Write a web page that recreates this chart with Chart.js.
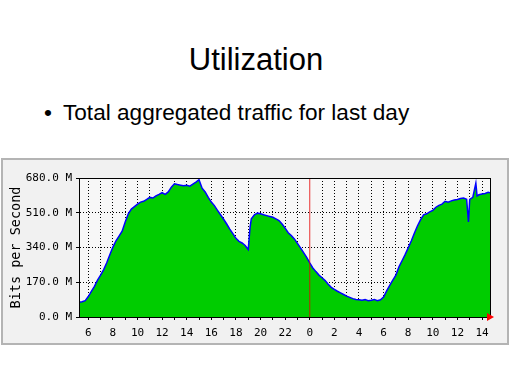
<!DOCTYPE html>
<html>
<head>
<meta charset="utf-8">
<script src="https://cdn.jsdelivr.net/npm/chart.js"></script>
<style>
  html, body { margin: 0; padding: 0; background: #fff; }
  body { width: 512px; height: 384px; position: relative; overflow: hidden; font-family: "Liberation Sans", Arial, sans-serif; }
  #title { position: absolute; left: 0; width: 512px; top: 44px; text-align: center; font-size: 31px; line-height: 31px; color: #000; }
  #bullet { position: absolute; left: 44px; top: 102px; font-size: 22.6px; line-height: 22.6px; color: #000; white-space: nowrap; }
  #bullet span { display: inline-block; width: 19px; }
  #panel { position: absolute; left: 1px; top: 158px; width: 504px; height: 183px; border: 2px solid #b4b4b4; background: #f1f1f1; }
  #traffic { position: absolute; left: 0; top: 158px; }
</style>
</head>
<body>
<div id="title">Utilization</div>
<div id="bullet"><span>&bull;</span>Total aggregated traffic for last day</div>
<div id="panel"></div>
<canvas id="traffic" width="512" height="190"></canvas>

<script>
// hours since midnight of the first day (24 = 0:00 of the next day)
let hours = [
    5.25, 5.5, 5.75, 6, 6.25, 6.5, 6.75, 7, 7.25, 7.5, 7.75, 8, 8.25, 8.5, 8.75,
    9, 9.25, 9.5, 9.75, 10, 10.25, 10.5, 10.75, 11, 11.25, 11.5, 11.75, 12, 12.25, 12.5, 12.75,
    13, 13.25, 13.5, 13.75, 14, 14.25, 14.5, 14.75, 15, 15.25, 15.5, 15.75, 16, 16.25, 16.5, 16.75,
    17, 17.25, 17.5, 17.75, 18, 18.25, 18.5, 18.75, 19, 19.15, 19.25, 19.5, 19.75, 20, 20.25, 20.5, 20.75,
    21, 21.25, 21.5, 21.75, 22, 22.25, 22.5, 22.75, 23, 23.25, 23.5, 23.75, 24, 24.25, 24.5, 24.75,
    25, 25.25, 25.5, 25.75, 26, 26.25, 26.5, 26.75, 27, 27.25, 27.5, 27.75, 28, 28.25, 28.5, 28.75,
    29, 29.25, 29.5, 29.75, 30, 30.25, 30.5, 30.75, 31, 31.25, 31.5, 31.75, 32, 32.25, 32.5, 32.75,
    33, 33.25, 33.5, 33.75, 34, 34.25, 34.5, 34.75, 35, 35.25, 35.5, 35.75, 36, 36.25, 36.5, 36.75,
    36.9, 37, 37.25, 37.5, 37.6, 37.75, 38, 38.25, 38.5, 38.65
];

// bits per second, in M
let traffic = [
    72, 75, 80, 100, 125, 150, 180, 205, 232, 265, 305, 342, 373, 396, 420,
    465, 505, 528, 540, 552, 562, 566, 575, 585, 582, 593, 600, 608, 600, 612, 635,
    652, 648, 645, 642, 644, 640, 650, 660, 672, 630, 612, 585, 562, 545, 522, 500,
    478, 455, 430, 408, 385, 370, 362, 350, 330, 440, 480, 500, 508, 505, 500, 496, 492,
    488, 480, 472, 455, 435, 412, 398, 382, 360, 338, 315, 292, 265, 240, 222, 205,
    192, 178, 160, 145, 135, 126, 118, 110, 102, 96, 90, 86, 84, 82, 85, 80,
    82, 86, 80, 84, 98, 128, 155, 180, 205, 245, 275, 305, 338, 372, 410, 445,
    475, 500, 505, 514, 522, 537, 546, 552, 566, 562, 568, 572, 575, 580, 582, 576,
    465, 575, 585, 655, 592, 598, 602, 604, 610, 608
];

let yTicks = [0, 170, 340, 510, 680];
let hourMin = 5.245;
let hourMax = 38.65;
let midnight = 24;

let tickFont = { family: "'DejaVu Sans Mono', monospace", size: 11 };

// plot background, black frame and the red arrow at the end of the time axis
let mrtgFrame = {
    id: 'mrtgFrame',
    beforeDraw: function (chart) {
        let a = chart.chartArea;
        let ctx = chart.ctx;
        ctx.save();
        ctx.fillStyle = '#f7f7f7';
        ctx.fillRect(a.left, a.top, a.right - a.left, a.bottom - a.top);
        ctx.restore();
    },
    afterDraw: function (chart) {
        let a = chart.chartArea;
        let ctx = chart.ctx;
        ctx.save();
        ctx.strokeStyle = '#000';
        ctx.lineWidth = 1;
        ctx.strokeRect(Math.round(a.left) + 0.5, Math.round(a.top) + 0.5, Math.round(a.right - a.left), Math.round(a.bottom - a.top));
        ctx.fillStyle = '#ff0000';
        ctx.beginPath();
        ctx.moveTo(a.right - 3, a.bottom - 4);
        ctx.lineTo(a.right + 4, a.bottom);
        ctx.lineTo(a.right - 3, a.bottom + 4);
        ctx.closePath();
        ctx.fill();
        ctx.restore();
    }
};

let points = hours.map(function (h, i) { return { x: h, y: traffic[i] }; });

let chartview = new Chart(document.getElementById('traffic').getContext('2d'), {
    type: 'line',
    data: {
        datasets: [{
                label: 'midnight',
                data: [{ x: midnight, y: yTicks[0] }, { x: midnight, y: yTicks[yTicks.length - 1] }],
                borderColor: 'rgba(230, 0, 0, 0.8)',
                borderWidth: 1,
                pointRadius: 0,
                fill: false,
                order: 0
            },
            {
                label: 'Bits per Second',
                data: points,
                borderColor: '#0000ff',
                backgroundColor: '#00cc00',
                borderWidth: 1.5,
                pointRadius: 0,
                tension: 0,
                fill: 'origin',
                order: 1
            }
        ]
    },
    options: {
        responsive: false,
        animation: false,
        layout: { padding: { left: 0, right: 22, top: 20, bottom: 0 } },
        plugins: {
            legend: { display: false },
            tooltip: { enabled: false }
        },
        scales: {
            x: {
                type: 'linear',
                min: hourMin,
                max: hourMax,
                z: 1,
                afterFit: function (scale) { scale.height = 31; },
                grid: {
                    color: function (c) { return c.tick && c.tick.value === midnight ? 'rgba(0,0,0,0)' : '#000'; },
                    lineWidth: 1,
                    tickLength: 3,
                    tickColor: '#000'
                },
                border: { display: true, color: '#000', dash: [1, 2] },
                ticks: {
                    stepSize: 1,
                    includeBounds: false,
                    maxRotation: 0,
                    autoSkip: false,
                    padding: 7,
                    color: '#000',
                    font: tickFont,
                    callback: function (v) { return v % 2 === 0 ? String(v % 24) : ''; }
                }
            },
            y: {
                min: 0,
                max: 680,
                z: 1,
                afterFit: function (scale) { scale.width = 79; },
                afterBuildTicks: function (scale) { scale.ticks = yTicks.map(function (v) { return { value: v }; }); },
                grid: { color: '#000', lineWidth: 1, tickLength: 3, tickColor: '#000' },
                border: { display: true, color: '#000', dash: [1, 2] },
                ticks: {
                    padding: 4,
                    color: '#000',
                    font: tickFont,
                    callback: function (v) { return v.toFixed(1) + ' M'; }
                },
                title: {
                    display: true,
                    text: 'Bits per Second',
                    color: '#000',
                    font: { family: "'DejaVu Sans Mono', monospace", size: 13.5 },
                    padding: { top: 8, bottom: 0 }
                }
            }
        }
    },
    plugins: [mrtgFrame]
});
</script>
</body>
</html>
